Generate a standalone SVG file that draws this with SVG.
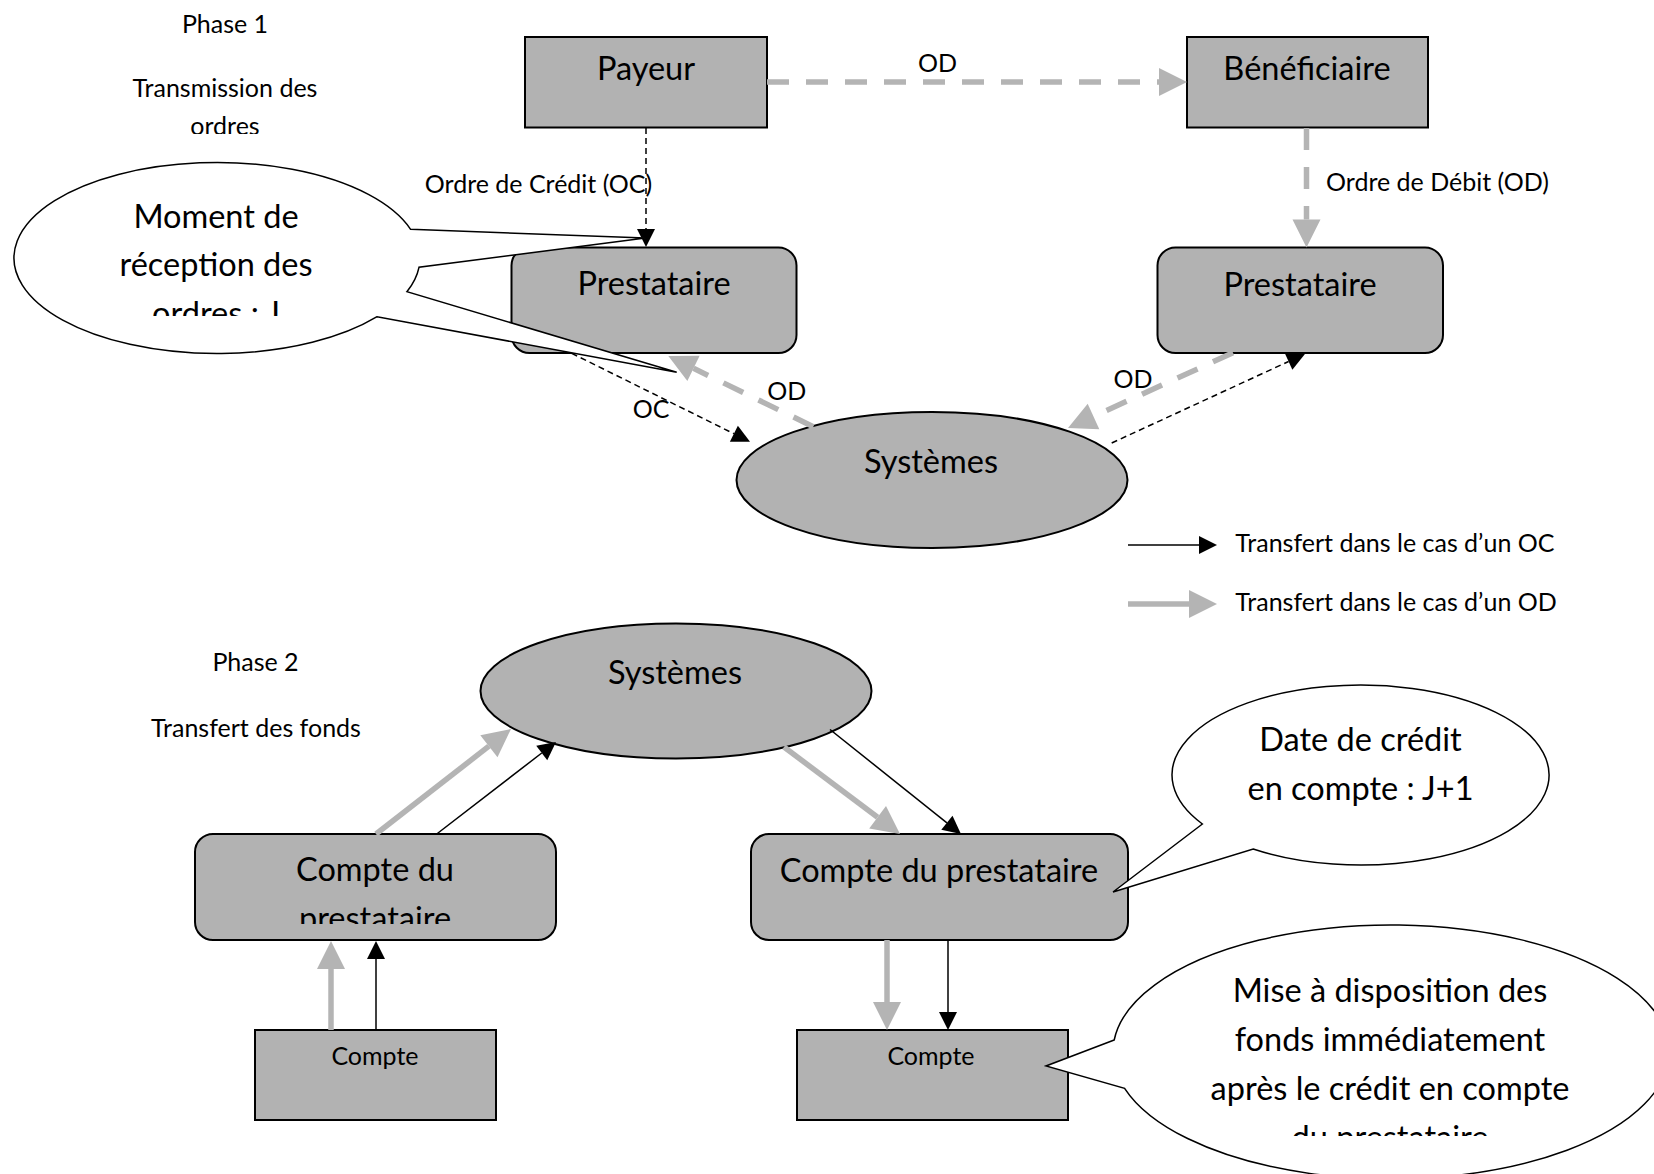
<svg xmlns="http://www.w3.org/2000/svg" width="1654" height="1174" viewBox="0 0 1654 1174">
<style>
.box{fill:#b2b2b2;stroke:#000;stroke-width:2}
.call{fill:#fff;stroke:#000;stroke-width:1.5;stroke-linejoin:miter}
text{font-family:Lato,"Liberation Sans",sans-serif;fill:#000;text-anchor:middle}
.s{font-size:25px}
.l{font-size:32.5px}
.st{text-anchor:start}
.g{stroke:#b4b4b4;stroke-width:5.5;fill:none}
.gd{stroke-dasharray:22 17}
.k{stroke:#000;stroke-width:1.5;fill:none}
.kd{stroke-dasharray:6 4}
</style>
<defs>
<marker id="ag" markerUnits="userSpaceOnUse" markerWidth="30" markerHeight="30" refX="0" refY="0" orient="auto" overflow="visible"><path d="M0,-14 L28,0 L0,14 Z" fill="#b4b4b4"/></marker>
<marker id="ak" markerUnits="userSpaceOnUse" markerWidth="20" markerHeight="20" refX="0" refY="0" orient="auto" overflow="visible"><path d="M0,-9 L18,0 L0,9 Z" fill="#000"/></marker>
<clipPath id="c1"><rect x="0" y="0" width="460" height="134"/></clipPath>
<clipPath id="c2"><rect x="0" y="150" width="460" height="166"/></clipPath>
<clipPath id="c3"><rect x="190" y="830" width="370" height="94"/></clipPath>
<clipPath id="c4"><rect x="1100" y="920" width="554" height="216"/></clipPath>
</defs>

<g id="titles">
<text class="s" x="225" y="33">Phase 1</text>
<g clip-path="url(#c1)"><text class="s" x="225" y="97">Transmission des</text><text class="s" x="225" y="135">ordres</text></g>
<text class="s" x="255.5" y="671">Phase 2</text>
<text class="s" x="256" y="736.6">Transfert des fonds</text>
</g>

<g id="payeur"><rect class="box" x="525" y="37" width="242" height="90.5"/><text class="l" x="646" y="80">Payeur</text></g>
<g id="beneficiaire"><rect class="box" x="1187" y="37" width="241" height="90.5"/><text class="l" x="1307" y="80">Bénéficiaire</text></g>
<g id="prestataire-gauche"><rect class="box" x="511.5" y="247.5" width="285" height="105.5" rx="18"/><text class="l" x="654" y="295">Prestataire</text></g>
<g id="prestataire-droite"><rect class="box" x="1157.5" y="247.5" width="285.5" height="105.5" rx="18"/><text class="l" x="1300" y="296">Prestataire</text></g>
<g id="systemes-1"><ellipse class="box" cx="932" cy="480" rx="195.5" ry="68"/><text class="l" x="931" y="473">Systèmes</text></g>
<g id="systemes-2"><ellipse class="box" cx="676" cy="691" rx="195.5" ry="67.5"/><text class="l" x="675" y="683.6">Systèmes</text></g>
<g id="compte-prestataire-gauche"><rect class="box" x="195" y="834" width="361" height="106" rx="18"/><text class="l" x="375" y="881">Compte du</text><g clip-path="url(#c3)"><text class="l" x="375" y="929.5">prestataire</text></g></g>
<g id="compte-prestataire-droite"><rect class="box" x="751" y="834" width="377" height="106" rx="18"/><text class="l" x="939" y="882">Compte du prestataire</text></g>
<g id="compte-gauche"><rect class="box" x="255" y="1030" width="241" height="90"/><text class="s" x="375" y="1065">Compte</text></g>
<g id="compte-droite"><rect class="box" x="797" y="1030" width="271" height="90"/><text class="s" x="931" y="1065">Compte</text></g>

<g id="connectors">
<line class="g gd" x1="767" y1="82" x2="1159" y2="82" marker-end="url(#ag)"/>
<line class="g gd" x1="1306.5" y1="128" x2="1306.5" y2="219.5" marker-end="url(#ag)"/>
<line class="g gd" x1="1233" y1="352.7" x2="1093.5" y2="416.4" marker-end="url(#ag)"/>
<line class="g gd" x1="813.3" y1="426.7" x2="693.5" y2="368.3" marker-end="url(#ag)"/>
<line class="k kd" x1="646" y1="128" x2="646" y2="229" marker-end="url(#ak)"/>
<line class="k kd" x1="571.7" y1="353.3" x2="733.9" y2="433.7" marker-end="url(#ak)"/>
<line class="k kd" x1="1111.7" y1="443" x2="1288.6" y2="361.5" marker-end="url(#ak)"/>
<line class="g" x1="331" y1="1030" x2="331" y2="969" marker-end="url(#ag)"/>
<line class="g" x1="376" y1="834" x2="488.9" y2="746.2" marker-end="url(#ag)"/>
<line class="g" x1="784" y1="747" x2="877.6" y2="817.2" marker-end="url(#ag)"/>
<line class="g" x1="887" y1="940" x2="887" y2="1002" marker-end="url(#ag)"/>
<line class="k" x1="376" y1="1030" x2="376" y2="959" marker-end="url(#ak)"/>
<line class="k" x1="436.7" y1="834" x2="541.75" y2="753" marker-end="url(#ak)"/>
<line class="k" x1="830" y1="729.5" x2="946.9" y2="822.8" marker-end="url(#ak)"/>
<line class="k" x1="948" y1="940" x2="948" y2="1012" marker-end="url(#ak)"/>
<text class="s" x="937.5" y="72">OD</text>
<text class="s" x="538.5" y="193">Ordre de Crédit (OC)</text>
<text class="s" x="1437.5" y="190.5">Ordre de Débit (OD)</text>
<text class="s" x="651" y="418">OC</text>
<text class="s" x="786.7" y="400">OD</text>
<text class="s" x="1133" y="388.3">OD</text>
</g>

<g id="legende">
<line class="k" x1="1128" y1="545" x2="1199" y2="545" marker-end="url(#ak)"/>
<text class="s st" x="1235.3" y="552">Transfert dans le cas d’un OC</text>
<line class="g" x1="1128" y1="604" x2="1189" y2="604" stroke-width="6" marker-end="url(#ag)"/>
<text class="s st" x="1235.3" y="611">Transfert dans le cas d’un OD</text>
</g>

<g id="bulle-moment">
<path class="call" d="M410.6,229.3 L645.5,238 L419,267.3 A203,95.5 0 0 1 406.9,291.7 L676.7,372.3 L377.1,316.7 A203,95.5 0 1 1 410.6,229.3 Z"/>
<g clip-path="url(#c2)"><text class="l" x="216" y="227.5">Moment de</text><text class="l" x="216" y="276">réception des</text><text class="l" x="216" y="324.5">ordres : J</text></g>
</g>
<g id="bulle-date">
<path class="call" d="M1202.4,824 L1113,892 L1253.2,849 A188.5,90 0 1 0 1202.4,824 Z"/>
<text class="l" x="1360.5" y="751">Date de crédit</text>
<text class="l" x="1360.5" y="800">en compte : J+1</text>
</g>
<g id="bulle-mise">
<path class="call" d="M1114.2,1040 L1046,1066 L1124.6,1088.3 A278,127 0 1 0 1114.2,1040 Z"/>
<g clip-path="url(#c4)"><text class="l" x="1390" y="1002">Mise à disposition des</text><text class="l" x="1390" y="1051">fonds immédiatement</text><text class="l" x="1390" y="1100">après le crédit en compte</text><text class="l" x="1390" y="1149">du prestataire</text></g>
</g>
</svg>
